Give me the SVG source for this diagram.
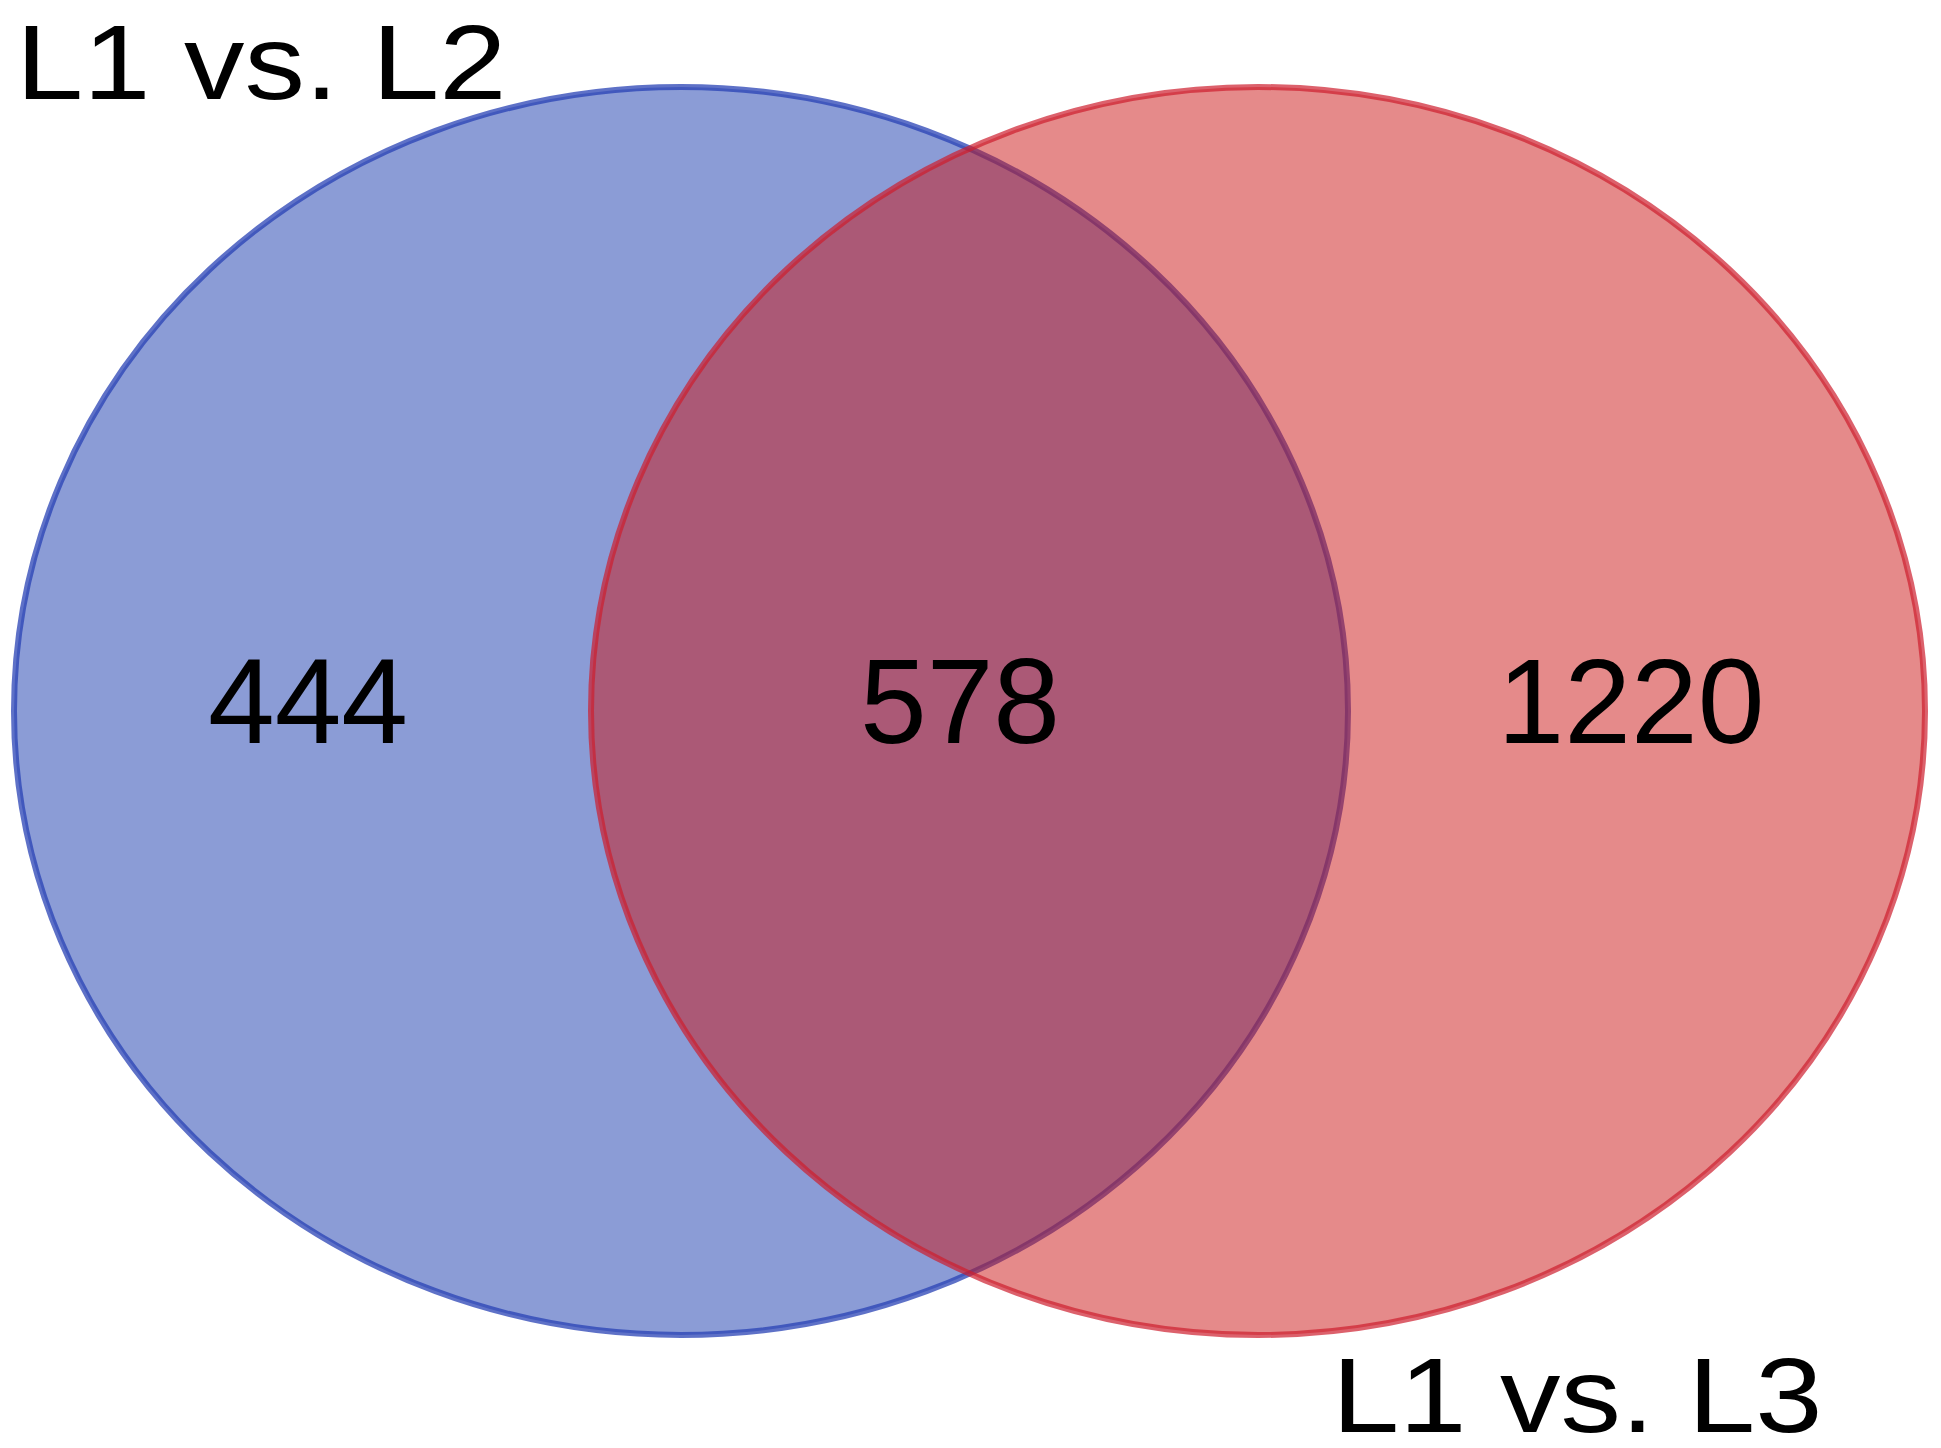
<svg xmlns="http://www.w3.org/2000/svg" width="1941" height="1448" viewBox="0 0 1941 1448">
<style>
.lbl{font-family:"Liberation Sans",Arial,Helvetica,sans-serif;font-size:120px;fill:#000}
.cat{font-size:106px}
.num{text-anchor:middle}
</style>
<rect width="1941" height="1448" fill="#ffffff"/>
<g id="set-L1vsL2">
<ellipse cx="681" cy="711" rx="667" ry="624" fill="rgb(23,57,173)" fill-opacity="0.5" stroke="rgb(40,65,180)" stroke-opacity="0.75" stroke-width="6"/>
</g>
<g id="set-L1vsL3">
<ellipse cx="1258" cy="711" rx="667" ry="624" fill="rgb(203,22,22)" fill-opacity="0.5" stroke="rgb(205,30,45)" stroke-opacity="0.7" stroke-width="6"/>
</g>
<g id="connectors"></g>
<g id="labels">
<text class="lbl cat" transform="translate(16,99) scale(1.14,1)">L1 vs. L2</text>
<text class="lbl cat" transform="translate(1332,1432) scale(1.14,1)">L1 vs. L3</text>
<text class="lbl num" x="308" y="743">444</text>
<text class="lbl num" x="960" y="743">578</text>
<text class="lbl num" x="1631" y="743">1220</text>
</g>
</svg>
